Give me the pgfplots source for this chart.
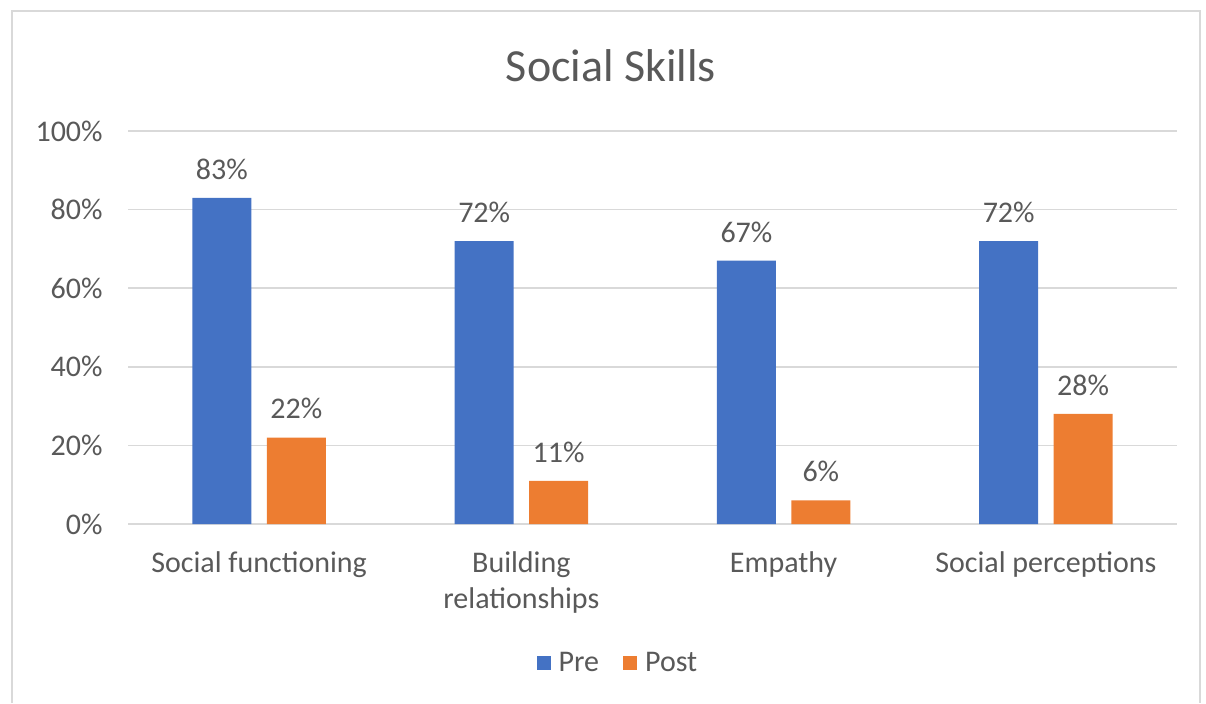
\documentclass[border=0pt]{standalone}
\usepackage{pgfplots}
\pgfplotsset{compat=1.18}
\usepackage{fontspec}
\setmainfont{Carlito}
\definecolor{preblue}{HTML}{4472C4}
\definecolor{postorange}{HTML}{ED7D31}
\definecolor{txtgray}{HTML}{595959}
\definecolor{gridgray}{HTML}{D9D9D9}
\begin{document}
\begin{tikzpicture}
\useasboundingbox (0pt,0pt) rectangle (603pt,351.5pt);
\draw[gridgray, line width=1pt] (6pt,0pt) -- (6pt,346pt) -- (600pt,346pt) -- (600pt,0pt);
\node[txtgray, font=\fontsize{23}{27}\selectfont] at (305.5pt,318.5pt) {Social Skills};
\begin{axis}[
  at={(64pt,89.5pt)}, anchor=south west,
  scale only axis, width=524.5pt, height=196.5pt,
  xmin=-0.5, xmax=3.5, ymin=0, ymax=100,
  enlargelimits=false,
  ybar, bar width=29.5pt,
  axis x line*=bottom, axis y line*=left,
  y axis line style={draw=none},
  x axis line style={draw=gridgray, line width=0.9pt},
  major tick length=0pt,
  ymajorgrids, grid style={gridgray, line width=0.75pt},
  ytick={0,20,40,60,80,100},
  yticklabels={0\%,20\%,40\%,60\%,80\%,100\%},
  xtick={0,1,2,3},
  xticklabels={Social functioning,{Building\\relationships},Empathy,Social perceptions},
  tick label style={txtgray, font=\fontsize{15}{18}\selectfont},
  yticklabel style={inner sep=0pt, xshift=-12.5pt},
  xticklabel style={align=center, inner sep=0pt, yshift=-13.5pt},
  nodes near coords={\pgfmathprintnumber[assume math mode=true]{\pgfplotspointmeta}\%},
  every node near coord/.append style={txtgray, font=\fontsize{15}{18}\selectfont, inner sep=0pt, yshift=9pt},
  legend style={at={(0.468,-0.3537)}, anchor=center, draw=none, fill=none,
    legend columns=2, font=\fontsize{15}{18}\selectfont, text=txtgray,
    /tikz/every odd column/.append style={column sep=2pt},
    /tikz/every even column/.append style={column sep=10pt}},
  legend image code/.code={\fill[#1] (0pt,-3.5pt) rectangle (7pt,3.5pt);},
]
\addplot[fill=preblue, draw=none, bar shift=-18.6pt] coordinates {(0,83) (1,72) (2,67) (3,72)};
\addplot[fill=postorange, draw=none, bar shift=18.6pt] coordinates {(0,22) (1,11) (2,6) (3,28)};
\legend{Pre,Post}
\end{axis}
\end{tikzpicture}
\end{document}
